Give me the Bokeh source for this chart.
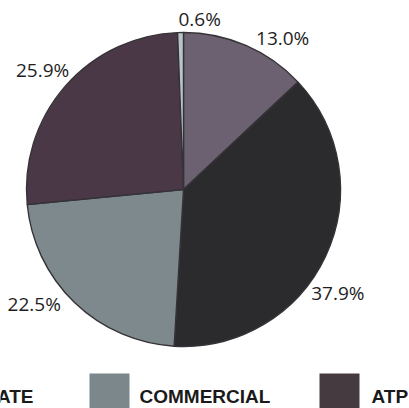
import math
from bokeh.plotting import figure
from bokeh.models import ColumnDataSource, Range1d
from bokeh.core.properties import value
from bokeh.embed import file_html
from bokeh.resources import INLINE

# ---- data ----
slice_labels = ["13.0%", "37.9%", "22.5%", "25.9%", "0.6%"]
slice_values = [13.0, 37.9, 22.5, 25.9, 0.6]
slice_colors = ["#6c6171", "#2b2a2d", "#7e898e", "#4b3846", "#b7c4c8"]

legend_labels = ["PRIVATE", "COMMERCIAL", "ATP"]
legend_colors = ["#b7c4c8", "#7c878b", "#453a40"]

# ---- layout ----
W, H = 409, 408
cx, cy = 183, H - 189
R = 157
label_angle_nudge = [9.8, 8.8, 8.6, -0.8, 6.5]   # degrees, clockwise
label_radius = [181, 186, 188, 185, 171]
legend_square_x = [-104, 89, 319]
legend_text_x = [33, 139, 371]
legend_text_align = ["right", "left", "left"]

total = sum(slice_values)
starts, ends, mids = [], [], []
cum = 0.0
for v in slice_values:
    a0 = cum / total
    cum += v
    a1 = cum / total
    starts.append(math.pi / 2 - 2 * math.pi * a0)
    ends.append(math.pi / 2 - 2 * math.pi * a1)
    mids.append((a0 + a1) / 2 * 360.0)

lx, ly = [], []
for m, dn, r in zip(mids, label_angle_nudge, label_radius):
    ang = math.radians(m + dn)
    lx.append(cx + r * math.sin(ang))
    ly.append(cy + r * math.cos(ang))

p = figure(width=W, height=H, x_range=Range1d(0, W), y_range=Range1d(0, H),
           output_backend="svg", toolbar_location=None, min_border=0)
p.axis.visible = False
p.grid.visible = False
p.outline_line_color = None
p.background_fill_color = "white"
p.border_fill_color = "white"

src = ColumnDataSource(dict(start=starts, end=ends, color=slice_colors))
p.wedge(x=cx, y=cy, radius=R, start_angle="start", end_angle="end",
        direction="clock", fill_color="color", line_color="#353337",
        line_width=1.4, source=src)

p.text(x=lx, y=ly, text=slice_labels, text_align="center",
       text_baseline="middle", text_font=value("Open Sans"),
       text_font_size="19px", text_color="#1e1e1e")

# legend
sq = 40
p.rect(x=[x + sq / 2 for x in legend_square_x], y=[H - 373 - sq / 2] * 3,
       width=sq, height=sq, fill_color=legend_colors, line_color=None)
for tx, t, al in zip(legend_text_x, legend_labels, legend_text_align):
    p.text(x=[tx], y=[H - 395.5], text=[t], text_align=al,
           text_baseline="middle", text_font=value("Liberation Sans"),
           text_font_style="bold", text_font_size="19px", text_color="#1a1a1a")

open("out.html", "w").write(file_html(p, INLINE))
